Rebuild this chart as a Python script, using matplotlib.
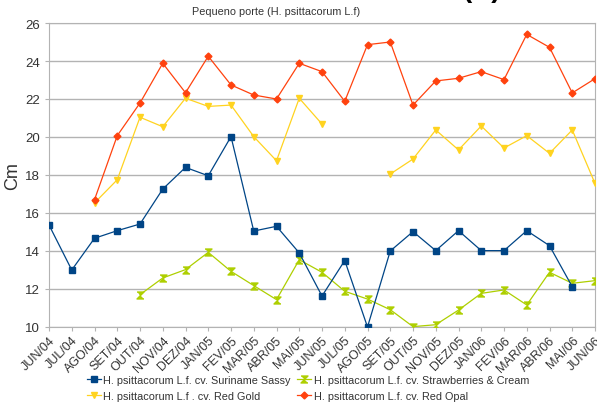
import numpy as np
import matplotlib
matplotlib.use("Agg")
import matplotlib.pyplot as plt

plt.rcParams['font.family'] = ['Liberation Sans', 'DejaVu Sans']

# months on the x axis
months = ['JUN/04', 'JUL/04', 'AGO/04', 'SET/04', 'OUT/04', 'NOV/04', 'DEZ/04',
          'JAN/05', 'FEV/05', 'MAR/05', 'ABR/05', 'MAI/05', 'JUN/05', 'JUL/05',
          'AGO/05', 'SET/05', 'OUT/05', 'NOV/05', 'DEZ/05', 'JAN/06', 'FEV/06',
          'MAR/06', 'ABR/06', 'MAI/06', 'JUN/06']

nan = np.nan
# heights (cm) per cultivar, nan = no measurement
suriname_sassy = [15.37, 13.0, 14.67, 15.07, 15.42, 17.26, 18.4, 17.96, 20.02, 15.05,
                  15.3, 13.9, 11.63, 13.5, 10.0, 14.0, 15.02, 14.02, 15.07, 14.02,
                  14.02, 15.07, 14.28, 12.12, nan]
strawberries = [nan, nan, nan, nan, 11.7, 12.58, 13.02, 13.93, 12.93, 12.18,
                11.44, 13.54, 12.88, 11.88, 11.47, 10.91, 10.02, 10.12, 10.89, 11.77,
                11.95, 11.16, 12.88, 12.3, 12.44]
red_gold = [nan, nan, 16.53, 17.75, 21.04, 20.54, 22.04, 21.61, 21.68, 20.02,
            18.75, 22.04, 20.68, nan, nan, 18.05, 18.84, 20.37, 19.32, 20.58,
            19.42, 20.07, 19.14, 20.37, 17.56]
red_opal = [nan, nan, 16.7, 20.07, 21.79, 23.88, 22.33, 24.25, 22.74, 22.21,
            22.0, 23.88, 23.44, 21.88, 24.86, 25.0, 21.68, 22.95, 23.09, 23.44,
            23.02, 25.4, 24.72, 22.32, 23.07]

labels = ['H. psittacorum L.f. cv. Suriname Sassy',
          'H. psittacorum L.f. cv. Strawberries & Cream',
          'H. psittacorum L.f . cv. Red Gold',
          'H. psittacorum L.f. cv. Red Opal']

hourglass = [(-1, 1), (1, 1), (-1, -1), (1, -1)]

fig = plt.figure(figsize=(5.97, 4.06), dpi=100)
ax = fig.add_axes([49 / 597, 1 - 328 / 406, 546 / 597, 304 / 406])

x = np.arange(len(months))
l1, = ax.plot(x, strawberries, color='#aecf00', lw=0.9, marker=hourglass, ms=5,
              label=labels[1], zorder=3)
l2, = ax.plot(x, red_gold, color='#ffd320', lw=0.9, marker='v', ms=5,
              label=labels[2], zorder=3)
l3, = ax.plot(x, red_opal, color='#ff420e', lw=0.9, marker='D', ms=3.5,
              label=labels[3], zorder=3)
l0, = ax.plot(x, suriname_sassy, color='#004586', lw=0.9, marker='s', ms=4.5,
              label=labels[0], zorder=4)

ax.set_xlim(0, len(months) - 1)
ax.set_ylim(10, 26)
ax.set_yticks(range(10, 27, 2))
ax.set_xticks(x)
ax.set_xticklabels(months, rotation=45, ha='right', rotation_mode='anchor')
ax.grid(axis='y', color='#b3b3b3', lw=1)
ax.set_axisbelow(True)
for s in ax.spines.values():
    s.set_color('#b3b3b3')
ax.tick_params(colors='#b3b3b3', labelcolor='#333333', labelsize=9.5, length=3)
ax.tick_params(axis='x', pad=2, labelsize=9)
ax.set_ylabel('Cm', fontsize=13, color='#333333', labelpad=3)

fig.text(276 / 597, 1 - 12 / 406, 'Pequeno porte (H. psittacorum L.f)',
         ha='center', va='center', fontsize=7.8, color='#333333')
fig.text(482 / 597, 1 + 3 / 406, '(A)', ha='center', va='baseline',
         fontsize=20, fontweight='bold', color='#000000')

fig.legend([l0, l2, l1, l3], [labels[0], labels[2], labels[1], labels[3]],
           ncol=2, loc='upper left', bbox_to_anchor=(87 / 597, 1 - 376 / 406),
           frameon=False, fontsize=7.8, handlelength=1.3, handletextpad=0.2,
           columnspacing=0.6, labelspacing=0.55, borderaxespad=0, borderpad=0,
           labelcolor='#333333')

fig.savefig('out.png', dpi=100)
